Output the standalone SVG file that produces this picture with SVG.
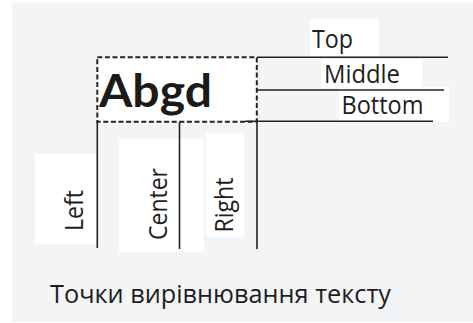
<svg xmlns="http://www.w3.org/2000/svg" width="473" height="323" viewBox="0 0 473 323">
<style>
.box{fill:#ffffff;stroke:none}
.ln{stroke:#222222;stroke-width:1.6;fill:none}
.t{font-family:"Open Sans","Noto Sans","DejaVu Sans",sans-serif;font-size:25px;fill:#1e1e1e}
.b{font-family:Lato,"Open Sans",sans-serif;font-weight:bold;font-size:46px;fill:#1a1a1a}
</style>
<rect x="0" y="0" width="473" height="323" fill="#ffffff"/>
<rect x="12" y="3" width="461" height="319" fill="#f3f4f6"/>
<g id="top">
<rect class="box" x="310" y="19" width="69" height="37"/>
<text class="t" x="312" y="47.5" textLength="41" lengthAdjust="spacingAndGlyphs">Top</text>
</g>
<g id="middle">
<rect class="box" x="321" y="59" width="101" height="29"/>
<text class="t" x="324" y="82.7" textLength="76" lengthAdjust="spacingAndGlyphs">Middle</text>
</g>
<g id="bottom">
<rect class="box" x="339" y="87" width="110" height="35"/>
<text class="t" x="341.5" y="114" textLength="82" lengthAdjust="spacingAndGlyphs">Bottom</text>
</g>
<g id="abgd">
<rect x="97.3" y="57.3" width="159.5" height="64.4" fill="#ffffff" stroke="#222222" stroke-width="2" stroke-dasharray="5 2.6"/>
<text class="b" x="99" y="106.7" textLength="113" lengthAdjust="spacingAndGlyphs">Abgd</text>
</g>
<g id="left">
<rect class="box" x="35" y="154" width="62" height="90"/>
<text class="t" transform="translate(83.3,231) rotate(-90)" textLength="41" lengthAdjust="spacingAndGlyphs">Left</text>
</g>
<g id="center">
<rect class="box" x="119" y="139" width="85" height="113"/>
<text class="t" transform="translate(166.7,240) rotate(-90)" textLength="72" lengthAdjust="spacingAndGlyphs">Center</text>
</g>
<g id="right">
<rect class="box" x="206" y="133" width="38" height="104"/>
<text class="t" transform="translate(233,232.5) rotate(-90)" textLength="55" lengthAdjust="spacingAndGlyphs">Right</text>
</g>
<g id="caption">
<text class="t" x="50" y="302.7" textLength="341" lengthAdjust="spacingAndGlyphs">Точки вирівнювання тексту</text>
</g>
<g id="connectors">
<line class="ln" x1="257" y1="57.3" x2="448" y2="57.3"/>
<line class="ln" x1="257" y1="90" x2="444" y2="90"/>
<line class="ln" x1="245" y1="121.3" x2="433" y2="121.3"/>
<line class="ln" x1="97.3" y1="122" x2="97.3" y2="248"/>
<line class="ln" x1="179.5" y1="122" x2="179.5" y2="249"/>
<line class="ln" x1="257" y1="122" x2="257" y2="249" stroke-width="2"/>
</g>
</svg>
